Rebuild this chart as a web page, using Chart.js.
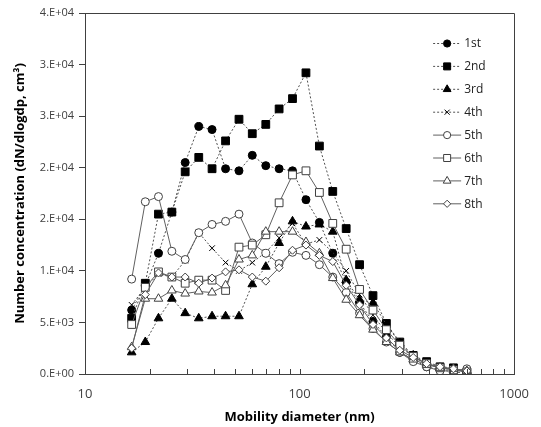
<!DOCTYPE html>
<html>
<head>
<meta charset="utf-8">
<title>Size distribution</title>
<script src="https://cdn.jsdelivr.net/npm/chart.js@4.4.0/dist/chart.umd.min.js"></script>
<style>
  html, body { margin: 0; padding: 0; background: #fff; }
  #wrap { width: 541px; height: 427px; }
</style>
</head>
<body>
<div id="wrap"><canvas id="sizechart" width="541" height="427"></canvas></div>
<script>
// mobility diameter bins (nm)
var diameters = [16.5, 19.1, 22.0, 25.4, 29.3, 33.9, 39.1, 45.2, 52.2, 60.2, 69.6, 80.3, 92.7,
                 107.1, 123.7, 142.8, 164.9, 190.4, 219.9, 253.9, 293.2, 338.6, 391.0, 451.5, 521.4, 602.1];

// dN/dlogdp for each run
var run1 = [6200, 8600, 11700, 15700, 20500, 24000, 23700, 19900, 19700, 21200, 20200, 19900, 19700,
            16900, 14700, 11700, 8900, 6900, 5100, 3600, 2100, 1400, 700, 400, 200, 100];
var run2 = [5400, 8800, 15500, 15700, 19600, 21000, 19900, 22600, 24700, 23300, 24200, 25700, 26700,
            29200, 22100, 17700, 14100, 10600, 7600, 4900, 3100, 1800, 1200, 700, 600, 100];
var run3 = [2100, 3100, 5400, 7300, 5900, 5400, 5600, 5600, 5600, 8700, 10400, 12700, 14800,
            14300, 14500, 13800, 9100, 7200, 6900, 4800, 3000, 1800, 1000, 600, 400, 200];
var run4 = [6700, 8400, 9700, 9400, 11000, 13700, 12200, 10800, 10000, 10800, 11800, 13200, 14600,
            12600, 13000, 11800, 10000, 7700, 5700, 4000, 2600, 1700, 1000, 600, 400, 200];
var run5 = [9200, 16700, 17200, 11900, 11100, 13700, 14500, 14800, 15500, 12700, 11700, 10700, 11800,
            11500, 10600, 9400, 7900, 5900, 4400, 3100, 2100, 1200, 700, 300, 300, 500];
var run6 = [4800, 8400, 9900, 9400, 8800, 9100, 9100, 8100, 12300, 12500, 13500, 16600, 19300,
            19700, 17600, 14600, 12100, 8200, 6200, 4300, 2800, 1700, 1000, 600, 400, 200];
var run7 = [2600, 7300, 7300, 8100, 7800, 8000, 7900, 8600, 11100, 11500, 13800, 13800, 13800,
            12800, 11700, 9300, 7200, 5700, 4300, 3100, 2100, 1400, 900, 600, 500, 300];
var run8 = [2500, 7700, 9800, 9400, 9400, 8800, 9300, 9900, 10100, 9400, 9000, 10300, 12000,
            12500, 11500, 10900, 8600, 6700, 4800, 3500, 2300, 1600, 1000, 700, 500, 300];

var seriesNames = ["1st", "2nd", "3rd", "4th", "5th", "6th", "7th", "8th"];
var yTickValues = [0, 5000, 10000, 15000, 20000, 25000, 30000, 35000];
var yTickLabels = ["0.E+00", "5.E+03", "1.E+04", "2.E+04", "2.E+04", "3.E+04", "3.E+04", "4.E+04"];
var xTickValues = [10, 100, 1000];
var xTickLabels = ["10", "100", "1000"];

var allRuns = [run1, run2, run3, run4, run5, run6, run7, run8];
var FONT = "'Open Sans', 'Noto Sans', sans-serif";
var AXIS = "#404040";

// marker / line look per run
var looks = [
  { style: 'circle',   r: 4,   fill: '#000', dash: [2, 2] },
  { style: 'rect',     r: 5.5, fill: '#000', dash: [2, 2] },
  { style: 'triangle', r: 5,   fill: '#000', dash: [2, 2] },
  { style: 'crossRot', r: 4,   fill: '#000', dash: [2, 2] },
  { style: 'circle',   r: 4,   fill: '#fff', dash: [] },
  { style: 'rect',     r: 5.5, fill: '#fff', dash: [] },
  { style: 'triangle', r: 5,   fill: '#fff', dash: [] },
  { style: 'rectRot',  r: 4,   fill: '#fff', dash: [] }
];

function toPoints(vals) {
  var pts = [];
  for (var i = 0; i < vals.length; i++) {
    pts.push({ x: diameters[i], y: vals[i] });
  }
  return pts;
}

var datasets = [];
for (var i = 0; i < allRuns.length; i++) {
  var lk = looks[i];
  datasets.push({
    label: seriesNames[i],
    data: toPoints(allRuns[i]),
    showLine: true,
    borderColor: lk.dash.length ? '#505050' : '#606060',
    borderWidth: 1,
    borderDash: lk.dash,
    pointStyle: lk.style,
    pointRadius: lk.r,
    pointBackgroundColor: lk.fill,
    pointBorderColor: lk.fill == '#000' ? '#000' : '#404040',
    pointBorderWidth: 1,
    order: allRuns.length - i   // later runs on top, like the original
  });
}

// legend drawn inside the plot, top right
var insideLegend = {
  id: 'insideLegend',
  afterDraw: function(chart) {
    var ctx = chart.ctx, ca = chart.chartArea;
    var x0 = ca.right - 81, y0 = ca.top + 30;
    ctx.save();
    for (var i = 0; i < chart.data.datasets.length; i++) {
      var ds = chart.data.datasets[i];
      var y = y0 + i * 22.9;
      ctx.strokeStyle = ds.borderColor;
      ctx.lineWidth = 1;
      ctx.setLineDash(ds.borderDash);
      ctx.beginPath();
      ctx.moveTo(x0, y + 0.5);
      ctx.lineTo(x0 + 28, y + 0.5);
      ctx.stroke();
      ctx.setLineDash([]);
      ctx.fillStyle = ds.pointBackgroundColor;
      ctx.strokeStyle = ds.pointBorderColor;
      Chart.helpers.drawPoint(ctx, { pointStyle: ds.pointStyle, radius: ds.pointRadius * 0.9, borderWidth: 1, rotation: 0 }, x0 + 14, y + 0.5);
      ctx.fillStyle = '#222';
      ctx.font = '12px ' + FONT;
      ctx.textBaseline = 'middle';
      ctx.fillText(ds.label, x0 + 31, y + 1);
    }
    ctx.restore();
  }
};

// top/right frame and the small inner ticks on the log axis
var frameTicks = {
  id: 'frameTicks',
  afterDraw: function(chart) {
    var ctx = chart.ctx, ca = chart.chartArea, xs = chart.scales.x;
    ctx.save();
    ctx.strokeStyle = AXIS;
    ctx.lineWidth = 1;
    ctx.beginPath();
    ctx.moveTo(Math.round(ca.left) + 0.5, Math.round(ca.top) + 0.5);
    ctx.lineTo(Math.round(ca.right) + 0.5, Math.round(ca.top) + 0.5);
    ctx.lineTo(Math.round(ca.right) + 0.5, Math.round(ca.bottom));
    ctx.stroke();
    ctx.beginPath();
    for (var d = 10; d < 1000; d *= 10) {
      for (var k = 1; k <= 9; k++) {
        var px = Math.round(xs.getPixelForValue(d * k)) + 0.5;
        ctx.moveTo(px, ca.bottom);
        ctx.lineTo(px, ca.bottom - 5);
      }
    }
    ctx.stroke();
    ctx.restore();
  }
};

var ctx = document.getElementById("sizechart");
var sizeChart = new Chart(ctx, {
  type: 'scatter',
  data: { datasets: datasets },
  options: {
    responsive: false,
    animation: false,
    layout: { padding: { top: 13, right: 25, left: 0, bottom: 0 } },
    plugins: {
      legend: { display: false },
      tooltip: { enabled: false }
    },
    scales: {
      x: {
        type: 'logarithmic',
        min: 10,
        max: 1000,
        afterBuildTicks: function(s) {
          s.ticks = xTickValues.map(function(v) { return { value: v }; });
        },
        afterFit: function(s) { s.height = 53; },
        ticks: {
          autoSkip: false,
          maxRotation: 0,
          padding: 12,
          color: AXIS,
          font: { family: FONT, size: 13 },
          callback: function(v) { return xTickLabels[xTickValues.indexOf(v)]; }
        },
        grid: { drawOnChartArea: false, drawTicks: false },
        border: { color: AXIS },
        title: {
          display: true,
          text: 'Mobility diameter (nm)',
          color: '#000',
          font: { family: FONT, size: 13, weight: 'bold' },
          padding: { top: 0, bottom: 2 }
        }
      },
      y: {
        type: 'linear',
        min: 0,
        max: 35000,
        afterBuildTicks: function(s) {
          s.ticks = yTickValues.map(function(v) { return { value: v }; });
        },
        afterFit: function(s) { s.width = 85; },
        ticks: {
          padding: 5,
          color: AXIS,
          font: { family: FONT, size: 11 },
          callback: function(v) { return yTickLabels[yTickValues.indexOf(v)]; }
        },
        grid: { drawOnChartArea: false, drawTicks: true, tickLength: 6, color: AXIS },
        border: { color: AXIS },
        title: {
          display: true,
          text: 'Number concentration (dN/dlogdp, cm³)',
          color: '#000',
          font: { family: FONT, size: 13, weight: 'bold' },
          padding: { top: 12, bottom: 0 }
        }
      }
    }
  },
  plugins: [frameTicks, insideLegend]
});
</script>
</body>
</html>
